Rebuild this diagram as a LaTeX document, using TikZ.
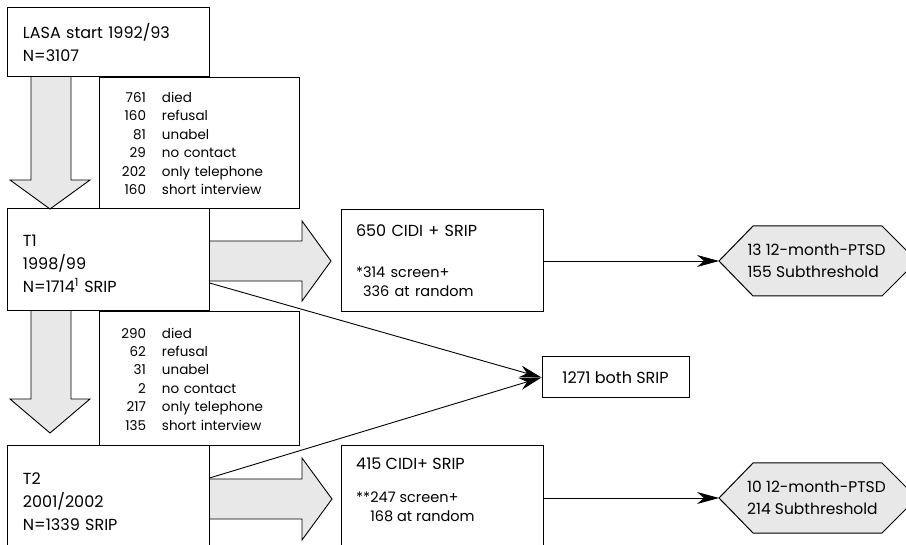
\documentclass[tikz,border=0pt]{standalone}
\usepackage{fontspec}
\setmainfont{Poppins}
\usetikzlibrary{arrows.meta}
\definecolor{arrfill}{gray}{0.91}
\newcommand{\mainsz}{\fontsize{16}{23}\selectfont}
\newcommand{\hexsz}{\fontsize{15.5}{22.5}\selectfont}
\newcommand{\dropsz}{\fontsize{13.5}{18.4}\selectfont}
\newcommand{\cidisz}{\fontsize{14.5}{18.4}\selectfont}
\newcommand{\dl}[2]{\makebox[29pt][r]{#1}\hspace{16pt}#2}
\begin{document}
\begin{tikzpicture}[x=1pt,y=-1pt,
  box/.style={draw, line width=1pt, rectangle, inner ysep=0pt},
  mainbox/.style={box, minimum width=202pt, text width=170pt, inner xsep=16pt, align=left, font=\mainsz},
  dropbox/.style={box, minimum width=200pt, text width=164pt, inner xsep=18pt, align=left, font=\dropsz},
  blockarrow/.style={draw, line width=0.9pt, fill=arrfill, line join=miter},
  hexshape/.style={draw, line width=1pt, fill=arrfill, line join=miter},
  conn/.style={line width=0.9pt, -{Stealth[length=22pt,width=12pt,inset=7pt]}},
  hextext/.style={inner sep=0pt, align=left, font=\hexsz},
  txt/.style={inner sep=0pt, align=left, font=\mainsz, anchor=north west}]
\useasboundingbox (0,0) rectangle (906,545);
\clip (0,0) rectangle (906,545);
\fill[white] (0,0) rectangle (906,545);

% block arrows
\path[blockarrow] (31,77) -- (31,180) -- (10,180) -- (50,209) -- (90,180) -- (71,180) -- (71,77);
\path[blockarrow] (31,311) -- (31,399) -- (10,399) -- (50,433) -- (90,399) -- (71,399) -- (71,311);
\path[blockarrow] (209,241) -- (302,241) -- (302,221) -- (331,261) -- (302,301) -- (302,281) -- (209,281);
\path[blockarrow] (209,479) -- (302,479) -- (302,458) -- (332,499) -- (302,540) -- (302,519) -- (209,519);

% boxes
\node[mainbox, minimum height=69pt] (lasa) at (108,42.5) {LASA start 1992/93\\N=3107};
\node[mainbox, minimum height=102pt, text height=20pt] (t1) at (108,260) {T1\\1998/99\\N=1714\textsuperscript{1} SRIP};
\node[mainbox, minimum height=106pt, text height=18pt] (t2) at (108,499) {T2\\2001/2002\\N=1339 SRIP};

\node[dropbox, minimum height=131pt] (drop1) at (199,143.5) {%
\dl{761}{died}\\
\dl{160}{refusal}\\
\dl{81}{unabel}\\
\dl{29}{no contact}\\
\dl{202}{only telephone}\\
\dl{160}{short interview}};
\node[dropbox, minimum height=134pt] (drop2) at (199,379) {%
\dl{290}{died}\\
\dl{62}{refusal}\\
\dl{31}{unabel}\\
\dl{2}{no contact}\\
\dl{217}{only telephone}\\
\dl{135}{short interview}};

\node[mainbox, minimum height=102pt, inner xsep=15pt, text width=172pt] (cidi1) at (442,261)
  {650 CIDI + SRIP\\[18pt]{\cidisz *314 screen+}\\[-4pt]{\cidisz\phantom{*}336 at random}};
\node[box, minimum width=202pt, minimum height=106pt] (cidi2) at (442,499) {};
\node[txt] (cidi2t) at (356,458)
  {415 CIDI+ SRIP\\[10pt]{\cidisz **247 screen+}\\[-4pt]{\cidisz\phantom{**}168 at random}};

\node[box, minimum width=147pt, minimum height=41pt, font=\mainsz] (both) at (615.5,377.5) {1271 both SRIP};

% hexagons
\path[hexshape] (719,261) -- (753,226) -- (882,226) -- (917,261) -- (882,296) -- (753,296) -- cycle;
\coordinate (hex1tip) at (719,261);
\node[hextext] (hex1) at (816.5,261) {13 12-month-PTSD\\155 Subthreshold};
\path[hexshape] (719,498) -- (753,463) -- (882,463) -- (917,498) -- (882,533) -- (753,533) -- cycle;
\coordinate (hex2tip) at (719,498);
\node[hextext] (hex2) at (816.5,498) {10 12-month-PTSD\\214 Subthreshold};

% connectors
\draw[conn] (cidi1.east) -- (hex1tip);
\draw[conn] (cidi2.east |- hex2tip) -- (hex2tip);
\draw[conn] ([yshift=-23pt]t1.east) -- (both.west);
\draw[conn] ([yshift=21pt]t2.east) -- (both.west);
\end{tikzpicture}
\end{document}
